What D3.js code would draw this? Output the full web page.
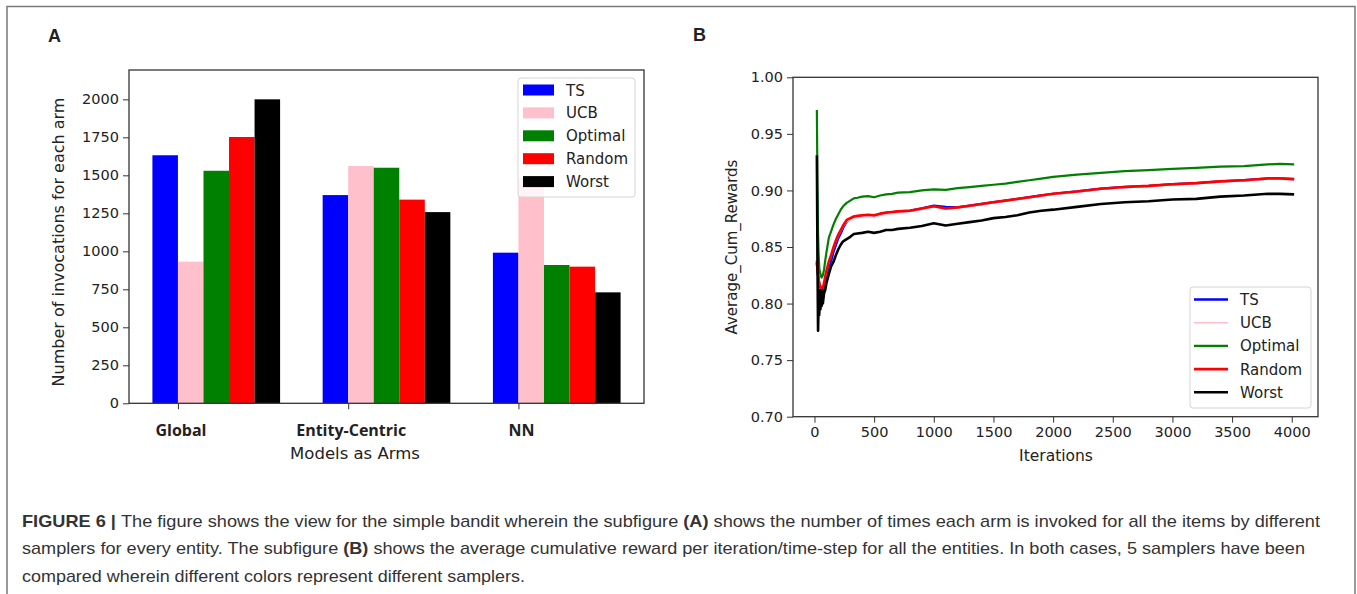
<!DOCTYPE html>
<html>
<head>
<meta charset="utf-8">
<script src="https://d3js.org/d3.v7.min.js"></script>
<style>
  body { margin: 0; background: #fff; }
  svg text { fill: #222; }
</style>
</head>
<body>
<script>
// ---- data: panel A ----
const models = ["Global", "Entity-Centric", "NN"];
const samplers = ["TS", "UCB", "Optimal", "Random", "Worst"];
const samplerColors = ["#0000ff", "#ffc0cb", "#008000", "#ff0000", "#000000"];
const tsCounts = [1632, 1370, 991];
const ucbCounts = [932, 1561, 1485];
const optimalCounts = [1530, 1550, 910];
const randomCounts = [1752, 1340, 899];
const worstCounts = [2000, 1258, 730];
const countTicks = [0, 250, 500, 750, 1000, 1250, 1500, 1750, 2000];

// ---- data: panel B ----
const iterations = [20, 25, 30, 35, 40, 45, 50, 55, 60, 65, 70,
  80, 90, 100, 120, 140, 160, 180, 200, 220, 240,
  270, 300, 330, 360, 400, 450, 500, 550, 600, 650,
  700, 800, 900, 1000, 1100, 1200, 1300, 1400, 1500, 1600,
  1700, 1800, 1900, 2000, 2200, 2400, 2600, 2800, 3000, 3200,
  3400, 3600, 3800, 3900, 4020];
const tsReward = [0.836, 0.829, 0.825, 0.821, 0.817, 0.815, 0.814, 0.813, 0.8125, 0.812, 0.813,
  0.816, 0.821, 0.826, 0.833, 0.838, 0.846, 0.852, 0.858, 0.862, 0.867,
  0.8725, 0.875, 0.8765, 0.877, 0.8775, 0.878, 0.8775, 0.879, 0.880, 0.8805,
  0.8815, 0.882, 0.884, 0.8865, 0.8855, 0.885, 0.8865, 0.888, 0.8895, 0.891,
  0.8925, 0.894, 0.8955, 0.897, 0.899, 0.9015, 0.903, 0.904, 0.9055, 0.9065,
  0.908, 0.909, 0.9105, 0.9105, 0.910];
const ucbReward = [0.837, 0.830, 0.826, 0.822, 0.818, 0.816, 0.815, 0.814, 0.8135, 0.813, 0.814,
  0.818, 0.823, 0.828, 0.836, 0.842, 0.849, 0.855, 0.860, 0.864, 0.868,
  0.8725, 0.874, 0.8755, 0.876, 0.8765, 0.877, 0.8765, 0.878, 0.879, 0.8795,
  0.8805, 0.8815, 0.8835, 0.8855, 0.8835, 0.8845, 0.886, 0.8875, 0.889, 0.8905,
  0.892, 0.8935, 0.895, 0.8965, 0.8985, 0.901, 0.9025, 0.9035, 0.905, 0.906,
  0.9075, 0.9085, 0.910, 0.910, 0.9095];
const optimalReward = [0.971, 0.905, 0.862, 0.843, 0.832, 0.828, 0.826, 0.824, 0.823, 0.824, 0.825,
  0.830, 0.838, 0.845, 0.858, 0.864, 0.870, 0.875, 0.879, 0.883, 0.886,
  0.889, 0.891, 0.893, 0.8935, 0.8945, 0.895, 0.894, 0.8955, 0.8965, 0.897,
  0.898, 0.8985, 0.900, 0.901, 0.9005, 0.902, 0.903, 0.904, 0.905, 0.906,
  0.9075, 0.909, 0.9105, 0.912, 0.914, 0.9155, 0.917, 0.918, 0.919, 0.920,
  0.921, 0.9215, 0.923, 0.9235, 0.923];
const randomReward = [0.838, 0.830, 0.826, 0.822, 0.818, 0.816, 0.815, 0.814, 0.8135, 0.813, 0.814,
  0.818, 0.824, 0.829, 0.837, 0.843, 0.850, 0.856, 0.861, 0.865, 0.869,
  0.874, 0.8755, 0.877, 0.8775, 0.878, 0.8785, 0.878, 0.8795, 0.8805, 0.881,
  0.8815, 0.882, 0.884, 0.886, 0.884, 0.885, 0.8865, 0.888, 0.8895, 0.891,
  0.8925, 0.894, 0.8955, 0.897, 0.899, 0.9015, 0.903, 0.904, 0.9055, 0.9065,
  0.908, 0.909, 0.9105, 0.9105, 0.910];
const worstReward = [0.931, 0.840, 0.776, 0.800, 0.790, 0.812, 0.795, 0.808, 0.798, 0.812, 0.800,
  0.809, 0.812, 0.818, 0.826, 0.833, 0.837, 0.843, 0.848, 0.852, 0.855,
  0.857, 0.859, 0.8615, 0.862, 0.8625, 0.8635, 0.8625, 0.8635, 0.865, 0.865,
  0.866, 0.867, 0.8685, 0.871, 0.869, 0.8705, 0.872, 0.8735, 0.8755, 0.8765,
  0.878, 0.8805, 0.882, 0.883, 0.8855, 0.888, 0.8895, 0.8905, 0.892, 0.8925,
  0.8945, 0.8955, 0.897, 0.897, 0.8965];
const iterTicks = [0, 500, 1000, 1500, 2000, 2500, 3000, 3500, 4000];
const rewardTicks = [0.70, 0.75, 0.80, 0.85, 0.90, 0.95, 1.00];

const counts = [tsCounts, ucbCounts, optimalCounts, randomCounts, worstCounts];
const rewards = [tsReward, ucbReward, optimalReward, randomReward, worstReward];
const lineWidths = [2.4, 1.6, 2.2, 2.6, 2.6];

const W = 1357, H = 594;
const svg = d3.select("body").append("svg")
  .attr("width", W).attr("height", H)
  .style("font-family", "'DejaVu Sans', sans-serif");

// outer frame of the figure
svg.append("path")
  .attr("d", "M7,600 V6.5 H1355 V600")
  .attr("fill", "none").attr("stroke", "#7a7a7a").attr("stroke-width", 1.5);

// ================= Panel A =================
const a = {left: 129, right: 644, top: 70, bottom: 403.3};
const barW = 0.15;
const xA = d3.scaleLinear().domain([-0.2875, 2.7375]).range([a.left, a.right]);
const yA = d3.scaleLinear().domain([0, 2193]).range([a.bottom, a.top]);

svg.append("text").text("A")
  .attr("x", 48).attr("y", 41.5)
  .style("font-family", "'Liberation Sans', Arial, sans-serif")
  .style("font-weight", "bold").style("font-size", "18px");

const gA = svg.append("g");
samplers.forEach((s, j) => {
  gA.selectAll(null).data(counts[j]).enter().append("rect")
    .attr("x", (d, i) => xA(i + (j - 1) * barW))
    .attr("width", xA(barW) - xA(0))
    .attr("y", d => yA(d))
    .attr("height", d => yA(0) - yA(d))
    .attr("fill", samplerColors[j]);
});

// y axis
const axLA = svg.append("g").attr("transform", `translate(${a.left},0)`)
  .call(d3.axisLeft(yA).tickValues(countTicks).tickSize(6).tickPadding(4).tickFormat(d3.format("d")));
axLA.selectAll("text").style("font-size", "14.5px").style("font-family", "'DejaVu Sans', sans-serif");
// x axis ticks (labels drawn separately)
const axBA = svg.append("g").attr("transform", `translate(0,${a.bottom})`)
  .call(d3.axisBottom(xA).tickValues([0, 1, 2]).tickSize(6).tickFormat(""));
[axLA, axBA].forEach(g => { g.select(".domain").remove(); g.selectAll("line").attr("stroke", "#333"); });

svg.selectAll(".cat").data(models).enter().append("text")
  .attr("class", "cat")
  .attr("x", (d, i) => xA(i) + 3)
  .attr("y", 436)
  .attr("text-anchor", "middle")
  .style("font-family", "'Open Sans', sans-serif")
  .style("font-weight", "bold").style("font-size", "16px")
  .text(d => d);

svg.append("rect").attr("x", a.left).attr("y", a.top)
  .attr("width", a.right - a.left).attr("height", a.bottom - a.top)
  .attr("fill", "none").attr("stroke", "#333").attr("stroke-width", 1.3);

svg.append("text").text("Models as Arms")
  .attr("x", 355).attr("y", 459).attr("text-anchor", "middle")
  .style("font-size", "16.5px");
svg.append("text").text("Number of invocations for each arm")
  .attr("transform", "translate(64,242) rotate(-90)")
  .attr("text-anchor", "middle").style("font-size", "16px");

// legend A
const legA = svg.append("g");
legA.append("rect").attr("x", 518).attr("y", 78).attr("width", 117).attr("height", 119)
  .attr("rx", 3).attr("fill", "#fff").attr("fill-opacity", 0.8)
  .attr("stroke", "#d4d4d4");
samplers.forEach((s, j) => {
  const cy = 90 + j * 22.9;
  legA.append("rect").attr("x", 523).attr("y", cy - 5.5).attr("width", 31).attr("height", 11)
    .attr("fill", samplerColors[j]);
  legA.append("text").attr("x", 566).attr("y", cy + 5.5).text(s).style("font-size", "15px");
});

// ================= Panel B =================
const b = {left: 793, right: 1318, top: 77.3, bottom: 416.7};
const xB = d3.scaleLinear().domain([-180, 4220]).range([b.left, b.right]);
const yB = d3.scaleLinear().domain([0.70, 1.00]).range([b.bottom, b.top]);

svg.append("text").text("B")
  .attr("x", 693).attr("y", 41)
  .style("font-family", "'Liberation Sans', Arial, sans-serif")
  .style("font-weight", "bold").style("font-size", "18px");

svg.append("clipPath").attr("id", "clipB").append("rect")
  .attr("x", b.left).attr("y", b.top).attr("width", b.right - b.left).attr("height", b.bottom - b.top);

const line = d3.line().x((d, i) => xB(iterations[i])).y(d => yB(d));
const gB = svg.append("g").attr("clip-path", "url(#clipB)");
rewards.forEach((r, j) => {
  gB.append("path").datum(r).attr("d", line)
    .attr("fill", "none").attr("stroke", samplerColors[j])
    .attr("stroke-width", lineWidths[j]).attr("stroke-linejoin", "round");
});

const axLB = svg.append("g").attr("transform", `translate(${b.left},0)`)
  .call(d3.axisLeft(yB).tickValues(rewardTicks).tickSize(6).tickPadding(4).tickFormat(d3.format(".2f")));
const axBB = svg.append("g").attr("transform", `translate(0,${b.bottom})`)
  .call(d3.axisBottom(xB).tickValues(iterTicks).tickSize(6).tickPadding(4).tickFormat(d3.format("d")));
[axLB, axBB].forEach(g => {
  g.select(".domain").remove();
  g.selectAll("line").attr("stroke", "#333");
  g.selectAll("text").style("font-size", "14.5px").style("font-family", "'DejaVu Sans', sans-serif");
});

svg.append("rect").attr("x", b.left).attr("y", b.top)
  .attr("width", b.right - b.left).attr("height", b.bottom - b.top)
  .attr("fill", "none").attr("stroke", "#333").attr("stroke-width", 1.3);

svg.append("text").text("Iterations")
  .attr("x", 1056).attr("y", 461).attr("text-anchor", "middle").style("font-size", "15.5px");
svg.append("text").text("Average_Cum_Rewards")
  .attr("transform", "translate(737,247) rotate(-90)")
  .attr("text-anchor", "middle").style("font-size", "15px");

// legend B
const legB = svg.append("g");
legB.append("rect").attr("x", 1190).attr("y", 287).attr("width", 121).attr("height", 121)
  .attr("rx", 3).attr("fill", "#fff").attr("fill-opacity", 0.8)
  .attr("stroke", "#d4d4d4");
samplers.forEach((s, j) => {
  const cy = 299.5 + j * 23.2;
  legB.append("line").attr("x1", 1194).attr("x2", 1228).attr("y1", cy).attr("y2", cy)
    .attr("stroke", samplerColors[j]).attr("stroke-width", lineWidths[j]);
  legB.append("text").attr("x", 1240).attr("y", cy + 5.5).text(s).style("font-size", "15px");
});

// ================= Caption =================
const captionLines = [
  [["FIGURE 6 | ", true], ["The figure shows the view for the simple bandit wherein the subfigure ", false], ["(A)", true], [" shows the number of times each arm is invoked for all the items by different", false]],
  [["samplers for every entity. The subfigure ", false], ["(B)", true], [" shows the average cumulative reward per iteration/time-step for all the entities. In both cases, 5 samplers have been", false]],
  [["compared wherein different colors represent different samplers.", false]]
];
const captionWidths = [1298, 1283, 503];
captionLines.forEach((segs, k) => {
  const t = svg.append("text").attr("x", 22).attr("y", 527 + k * 27.3)
    .attr("textLength", captionWidths[k]).attr("lengthAdjust", "spacingAndGlyphs")
    .style("font-family", "'Liberation Sans', Arial, sans-serif")
    .style("font-size", "17px");
  segs.forEach(([str, bold]) => {
    t.append("tspan").text(str).style("font-weight", bold ? "bold" : "normal")
      .style("fill", "#333");
  });
});
</script>
</body>
</html>
